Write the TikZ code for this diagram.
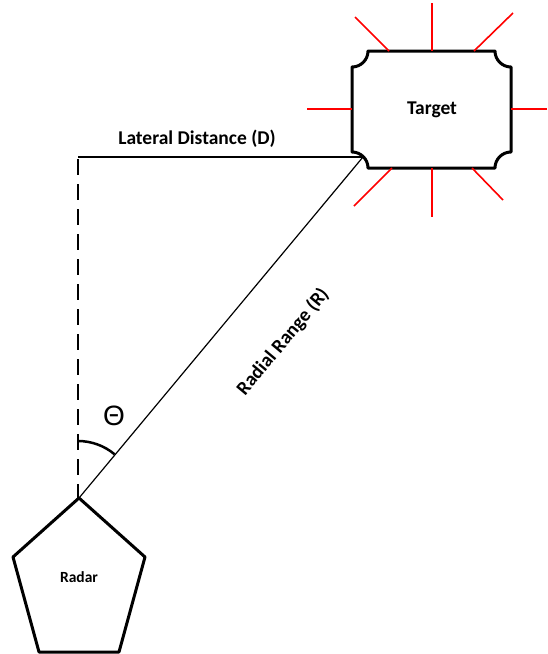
\documentclass[tikz,border=0pt]{standalone}
\usepackage{fontspec}
\setmainfont{Carlito}
\newfontfamily\symfont{Liberation Sans}
\begin{document}
\begin{tikzpicture}[x=1pt,y=-1pt,
  outline/.style={line width=3pt,line join=round},
  thinline/.style={line width=1.2pt},
  ray/.style={red,line width=1.6pt},
  lbl/.style={font=\bfseries\fontsize{19.5}{21}\selectfont,inner sep=0pt},
  blk/.style={inner sep=0pt}]
\useasboundingbox (0,0) rectangle (547,654);

% target block with concave corners
\node[lbl] (target) at (432,110) {Target};
\draw[outline] (352,67) arc[start angle=90,end angle=0,radius=16]
  -- (495,51) arc[start angle=180,end angle=90,radius=16]
  -- (511,152) arc[start angle=270,end angle=180,radius=16]
  -- (368,168) arc[start angle=0,end angle=-90,radius=16] -- cycle;
\coordinate (tc) at (363,157);

% emission rays around the target
\draw[ray] (432,51) -- (432,3);
\draw[ray] (389,51) -- (355,17);
\draw[ray] (474,51) -- (513,13);
\draw[ray] (352,109) -- (307,109);
\draw[ray] (511,109) -- (547,109);
\draw[ray] (432,168) -- (432,217);
\draw[ray] (392,168) -- (354,206);
\draw[ray] (472,168) -- (503,200);

% radar pentagon
\coordinate (radar) at (79,498);
\draw[outline] (radar) -- (145,557) -- (119,652) -- (39,652) -- (13,557) -- cycle;
\node[blk,font=\bfseries\fontsize{15.5}{17}\selectfont] (rlabel) at (79,577) {Radar};

% geometry lines
\coordinate (dtop) at (78,157);
\coordinate (dbot) at (78,498);
\draw[thinline] (dtop) -- (tc);
\draw[line width=2.2pt,dash pattern=on 16pt off 9pt,dash phase=-2pt] (dtop) -- (dbot);
\draw[thinline] (radar) -- (tc);

\node[lbl] (dlabel) at (197,139) {Lateral Distance (D)};
\node[lbl,rotate=50.2] (rlbl) at (283,342) {Radial Range (R)};

% angle marker
\draw[line width=2.5pt] (78,441) arc[start angle=-90,end angle=-50.1,radius=57];
\node[blk,font=\symfont\fontsize{28}{30}\selectfont] (theta) at (114,416) {Θ};
\end{tikzpicture}
\end{document}
